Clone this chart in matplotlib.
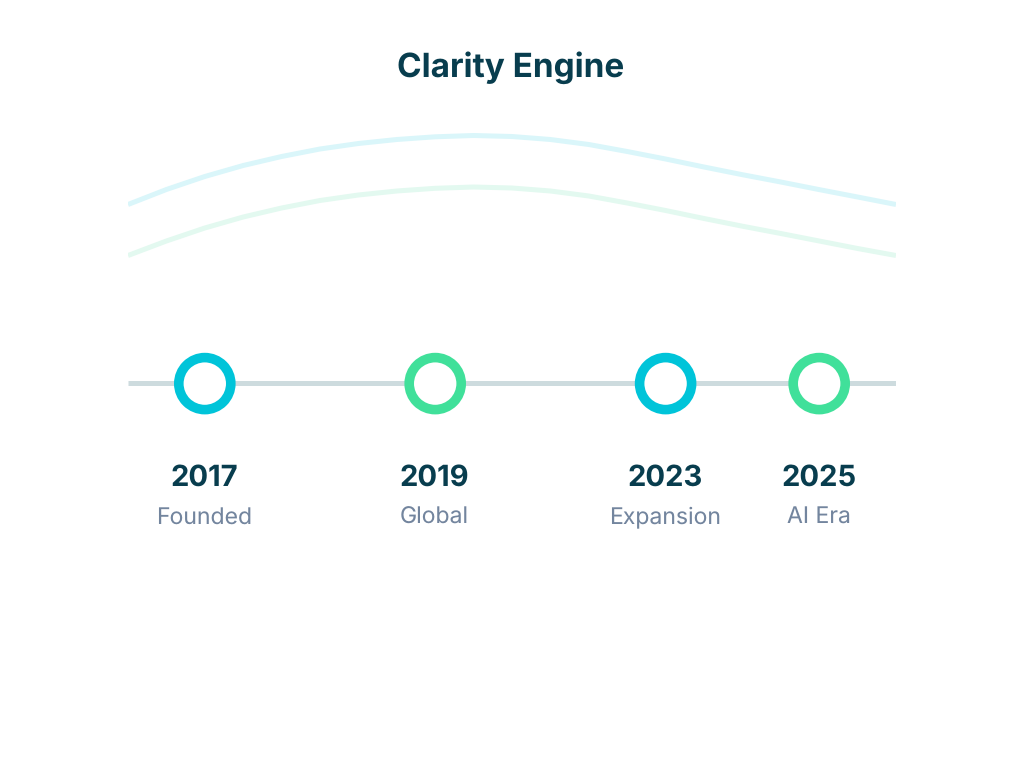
import matplotlib
matplotlib.use("Agg")
import matplotlib.pyplot as plt
from matplotlib.transforms import ScaledTranslation

plt.rcParams["text.hinting"] = "no_hinting"
plt.rcParams["text.hinting_factor"] = 1

title = "Clarity Engine"
years = ["2017", "2019", "2023", "2025"]
labels = ["Founded", "Global", "Expansion", "AI Era"]
positions = [1, 4, 7, 9]
ring_colors = ["#00C4D9", "#40E09A", "#00C4D9", "#40E09A"]

wave_x = [0, 0.5, 1, 1.5, 2, 2.5, 3, 3.5, 4, 4.5, 5, 5.5, 6, 6.5, 7, 7.5, 8, 8.5, 9, 9.5, 10]
wave_top = [204.5, 189.5, 176.5, 165.5, 156.5, 149, 143.5, 139.5, 136.8, 135.5, 136.5, 139.5, 144.5, 151.5, 159, 167, 174.7, 182, 189.6, 197, 204.5]
wave_low = [255.5, 241, 228, 217, 208, 200.5, 195, 191, 188.3, 187, 188, 191, 196, 203, 210.5, 218.5, 226.2, 233.5, 241, 248.5, 255.5]

DARK = "#083D4E"
MUTED = "#73859E"
PX = 72 / 100

fig = plt.figure(figsize=(10.24, 7.68), dpi=100, facecolor="white")
ax = fig.add_axes([128 / 1024, 0, 768 / 1024, 1])
ax.set_xlim(0, 10)
ax.set_ylim(768, 0)
ax.axis("off")

ax.plot(wave_x, wave_top, color="#DAF6FA", lw=5 * PX, solid_capstyle="butt", solid_joinstyle="round")
ax.plot(wave_x, wave_low, color="#E3F9F0", lw=5 * PX, solid_capstyle="butt", solid_joinstyle="round")

ax.plot([0, 10], [383.4, 383.4], color="#CDDBDE", lw=5 * PX, solid_capstyle="butt", zorder=2)

ax.scatter(positions, [383.6] * 4, s=(52 * PX) ** 2, facecolor="white",
           edgecolor=ring_colors, linewidth=9.6 * PX, zorder=3)

year_shift = ax.transData + ScaledTranslation(-0.6 / 100, 0, fig.dpi_scale_trans)
label_shift = ax.transData + ScaledTranslation(-0.7 / 100, 0, fig.dpi_scale_trans)
for p, y, l in zip(positions, years, labels):
    ax.text(p, 485.6, y, ha="center", va="baseline", family="Inter", weight="bold",
            fontsize=29.2 * PX, color=DARK, clip_on=False, transform=year_shift)
    ax.text(p, 523.8, l, ha="center", va="baseline", family="Inter", weight="normal",
            fontsize=23 * PX, color=MUTED, clip_on=False, transform=label_shift)

fig.text(511 / 1024, 1 - 77 / 768, title, ha="center", va="baseline", family="Inter",
         weight="bold", fontsize=33.3 * PX, color=DARK)

fig.savefig("out.png", dpi=100, facecolor="white")
